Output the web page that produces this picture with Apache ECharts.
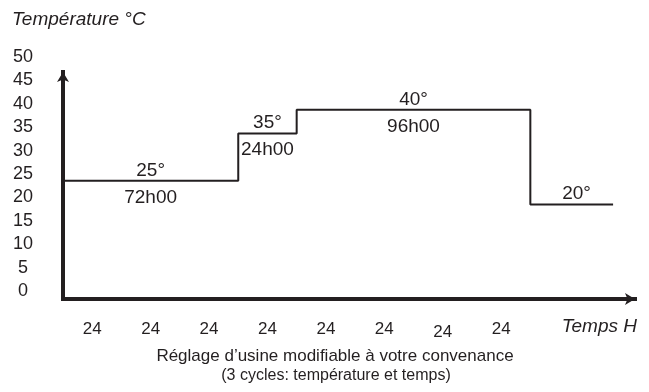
<!DOCTYPE html>
<html>
<head>
<meta charset="utf-8">
<script src="https://cdn.jsdelivr.net/npm/echarts@6/dist/echarts.min.js"></script>
<style>
  html, body { margin: 0; padding: 0; background: #fff; }
  #chart { width: 649px; height: 392px; }
</style>
</head>
<body>
<div id="chart"></div>
<script>
  // cycle start times (hours) and set temperatures
  var stepHours = [0, 72, 96, 192, 226];
  var stepTemps = [25, 35, 40, 20, 20];

  // annotations on each plateau
  var noteHours = [36, 84, 144, 211];
  var noteTemps = [25, 35, 40, 20];
  var degLabels = ['25°', '35°', '40°', '20°'];
  var durLabels = ['72h00', '24h00', '96h00', ''];

  // axis tick labels
  var yTickLabels = [0, 5, 10, 15, 20, 25, 30, 35, 40, 45, 50];
  var xTickLabels = ['24', '24', '24', '24', '24', '24', '24', '24'];

  var ink = '#231f20';
  var font = 'Liberation Sans, Arial, sans-serif';

  var degData = noteHours.map(function (h, i) {
    return { value: [h, noteTemps[i]], name: degLabels[i] };
  });
  var durData = noteHours.map(function (h, i) {
    return { value: [h, noteTemps[i]], name: durLabels[i] };
  });

  var axisLine = {
    show: true,
    symbol: ['none', 'arrow'],
    symbolSize: [9, 10],
    lineStyle: { color: ink, width: 4, cap: 'square' }
  };

  var myChart = echarts.init(document.getElementById('chart'));
  myChart.setOption({
    animation: false,
    textStyle: { fontFamily: font, color: ink },
    title: [{
      text: 'Température °C',
      left: 12,
      top: 10,
      padding: 0,
      textStyle: { fontStyle: 'italic', fontWeight: 'normal', fontSize: 19, color: ink, fontFamily: font }
    }, {
      text: 'Temps H',
      right: 12,
      top: 317,
      padding: 0,
      textStyle: { fontStyle: 'italic', fontWeight: 'normal', fontSize: 19, color: ink, fontFamily: font }
    }],
    graphic: [{
      type: 'text',
      x: 335,
      y: 348,
      style: { text: 'Réglage d\u2019usine modifiable à votre convenance', fontSize: 17, fill: ink, fontFamily: font, align: 'center' }
    }, {
      type: 'text',
      x: 336,
      y: 368,
      style: { text: '(3 cycles: température et temps)', fontSize: 16, fill: ink, fontFamily: font, align: 'center' }
    }],
    grid: [
      { left: 63, right: 14, top: 72, bottom: 93 },
      { left: 42, width: 10, top: 57, bottom: 101 }
    ],
    xAxis: [{
      gridIndex: 0,
      type: 'value',
      min: 0,
      max: 235,
      interval: 12,
      axisLine: axisLine,
      axisTick: { show: false },
      splitLine: { show: false },
      axisLabel: {
        margin: 22,
        fontSize: 17,
        color: ink,
        showMaxLabel: false,
        formatter: function (v) {
          var i = (v - 12) / 24;
          if (!(i >= 0 && i % 1 === 0 && i < xTickLabels.length)) return '';
          return i === 6 ? '{low|' + xTickLabels[i] + '}' : xTickLabels[i];
        },
        rich: {
          low: { fontSize: 17, color: ink, fontFamily: font, padding: [3, 0, 0, 0] }
        }
      }
    }, {
      gridIndex: 1,
      type: 'value',
      show: false
    }],
    yAxis: [{
      gridIndex: 0,
      type: 'value',
      min: 0,
      max: 48,
      axisLine: axisLine,
      axisTick: { show: false },
      splitLine: { show: false },
      axisLabel: { show: false }
    }, {
      gridIndex: 1,
      type: 'value',
      min: yTickLabels[0],
      max: yTickLabels[yTickLabels.length - 1],
      interval: 5,
      axisLine: { show: false },
      axisTick: { show: false },
      splitLine: { show: false },
      axisLabel: { fontSize: 18, color: ink, align: 'center', margin: 19 }
    }],
    series: [{
      type: 'line',
      step: 'end',
      xAxisIndex: 0,
      yAxisIndex: 0,
      symbol: 'none',
      lineStyle: { color: ink, width: 2 },
      data: stepHours.map(function (h, i) { return [h, stepTemps[i]]; })
    }, {
      type: 'scatter',
      xAxisIndex: 0,
      yAxisIndex: 0,
      symbolSize: 0,
      silent: true,
      itemStyle: { opacity: 1 },
      label: {
        show: true,
        position: 'top',
        distance: 1,
        fontSize: 19,
        color: ink,
        formatter: '{b}'
      },
      data: degData
    }, {
      type: 'scatter',
      xAxisIndex: 0,
      yAxisIndex: 0,
      symbolSize: 0,
      silent: true,
      itemStyle: { opacity: 1 },
      label: {
        show: true,
        position: 'bottom',
        distance: 7,
        fontSize: 19,
        color: ink,
        formatter: '{b}'
      },
      data: durData
    }]
  });

  window.addEventListener('resize', function () {
    myChart.resize();
  });
</script>
</body>
</html>
